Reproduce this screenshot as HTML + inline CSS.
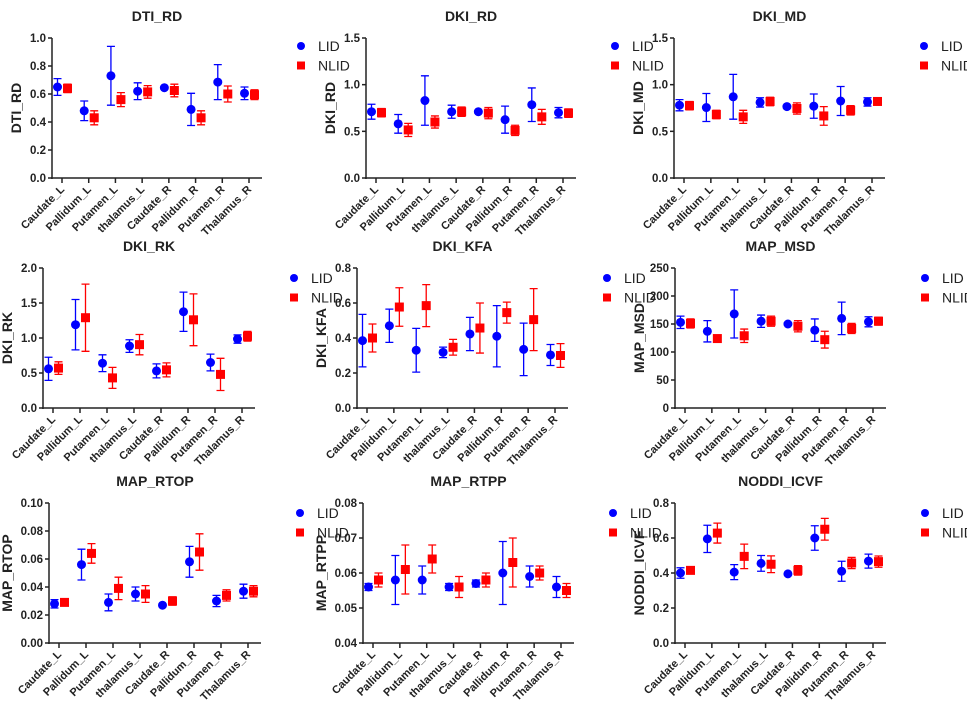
<!DOCTYPE html>
<html><head><meta charset="utf-8"><style>
html,body{margin:0;padding:0;background:#fff;}
svg{display:block;font-family:"Liberation Sans",Arial,sans-serif;}
</style></head><body>
<svg id="chart" width="967" height="711" viewBox="0 0 967 711" xmlns="http://www.w3.org/2000/svg"></svg>
<script>
const categories = ["Caudate_L","Pallidum_L","Putamen_L","thalamus_L","Caudate_R","Pallidum_R","Putamen_R","Thalamus_R"];
const seriesNames = ["LID","NLID"];

const dtiRdLidMean = [0.65,0.48,0.73,0.62,0.645,0.49,0.685,0.605];
const dtiRdLidErr  = [0.06,0.07,0.21,0.06,0.005,0.115,0.125,0.045];
const dtiRdNlidMean = [0.64,0.43,0.56,0.615,0.625,0.43,0.60,0.595];
const dtiRdNlidErr  = [0.03,0.05,0.05,0.045,0.045,0.05,0.057,0.035];
const dtiRdTicks = ["0.0","0.2","0.4","0.6","0.8","1.0"];

const dkiRdLidMean = [0.71,0.58,0.83,0.71,0.71,0.625,0.785,0.70];
const dkiRdLidErr  = [0.08,0.10,0.265,0.07,0.01,0.145,0.18,0.055];
const dkiRdNlidMean = [0.70,0.515,0.60,0.71,0.695,0.51,0.655,0.695];
const dkiRdNlidErr  = [0.045,0.07,0.065,0.05,0.06,0.055,0.08,0.045];
const dkiRdTicks = ["0.0","0.5","1.0","1.5"];

const dkiMdLidMean = [0.78,0.755,0.87,0.81,0.765,0.77,0.825,0.815];
const dkiMdLidErr  = [0.06,0.15,0.24,0.05,0.01,0.13,0.155,0.045];
const dkiMdNlidMean = [0.775,0.68,0.655,0.82,0.745,0.665,0.725,0.82];
const dkiMdNlidErr  = [0.045,0.045,0.07,0.045,0.06,0.10,0.05,0.035];
const dkiMdTicks = ["0.0","0.5","1.0","1.5"];

const dkiRkLidMean = [0.56,1.19,0.64,0.885,0.53,1.375,0.65,0.985];
const dkiRkLidErr  = [0.165,0.36,0.12,0.09,0.10,0.28,0.12,0.06];
const dkiRkNlidMean = [0.57,1.29,0.43,0.905,0.545,1.26,0.48,1.025];
const dkiRkNlidErr  = [0.09,0.48,0.15,0.145,0.10,0.37,0.23,0.07];
const dkiRkTicks = ["0.0","0.5","1.0","1.5","2.0"];

const dkiKfaLidMean = [0.385,0.47,0.33,0.318,0.423,0.41,0.335,0.303];
const dkiKfaLidErr  = [0.15,0.095,0.125,0.03,0.095,0.175,0.15,0.06];
const dkiKfaNlidMean = [0.40,0.577,0.585,0.347,0.457,0.545,0.505,0.30];
const dkiKfaNlidErr  = [0.08,0.11,0.12,0.045,0.143,0.06,0.177,0.068];
const dkiKfaTicks = ["0.0","0.2","0.4","0.6","0.8"];

const mapMsdLidMean = [153,137,168,155,150,139,160,154];
const mapMsdLidErr  = [11,19,43,11,2,20,29,9];
const mapMsdNlidMean = [151,124,129,155,146,122,142,155];
const mapMsdNlidErr  = [8,3,12,9,10,15,9,7];
const mapMsdTicks = ["0","50","100","150","200","250"];

const mapRtopLidMean = [0.028,0.056,0.029,0.035,0.027,0.058,0.030,0.037];
const mapRtopLidErr  = [0.003,0.011,0.006,0.005,0.0005,0.011,0.004,0.005];
const mapRtopNlidMean = [0.029,0.064,0.039,0.035,0.030,0.065,0.034,0.037];
const mapRtopNlidErr  = [0.002,0.007,0.008,0.006,0.003,0.013,0.004,0.004];
const mapRtopTicks = ["0.00","0.02","0.04","0.06","0.08","0.10"];

const mapRtppLidMean = [0.056,0.058,0.058,0.056,0.057,0.060,0.059,0.056];
const mapRtppLidErr  = [0.001,0.007,0.004,0.001,0.001,0.009,0.003,0.003];
const mapRtppNlidMean = [0.058,0.061,0.064,0.056,0.058,0.063,0.060,0.055];
const mapRtppNlidErr  = [0.002,0.007,0.004,0.003,0.002,0.007,0.002,0.002];
const mapRtppTicks = ["0.04","0.05","0.06","0.07","0.08"];

const icvfLidMean = [0.40,0.595,0.405,0.455,0.395,0.60,0.41,0.468];
const icvfLidErr  = [0.03,0.078,0.043,0.045,0.005,0.07,0.057,0.04];
const icvfNlidMean = [0.415,0.628,0.495,0.45,0.415,0.65,0.457,0.465];
const icvfNlidErr  = [0.015,0.057,0.07,0.048,0.027,0.062,0.032,0.032];
const icvfTicks = ["0.0","0.2","0.4","0.6","0.8"];

const panels = [
 {id:"dti-rd",title:"DTI_RD",x0:52,x1:262,yt:38,yb:178,ty:16,ly:46,ticks:dtiRdTicks,lm:dtiRdLidMean,le:dtiRdLidErr,nm:dtiRdNlidMean,ne:dtiRdNlidErr},
 {id:"dki-rd",title:"DKI_RD",x0:366,x1:576,yt:38,yb:178,ty:16,ly:46,ticks:dkiRdTicks,lm:dkiRdLidMean,le:dkiRdLidErr,nm:dkiRdNlidMean,ne:dkiRdNlidErr},
 {id:"dki-md",title:"DKI_MD",x0:674,x1:885,yt:38,yb:178,ty:16,ly:46,ticks:dkiMdTicks,lm:dkiMdLidMean,le:dkiMdLidErr,nm:dkiMdNlidMean,ne:dkiMdNlidErr},
 {id:"dki-rk",title:"DKI_RK",x0:43,x1:255,yt:268,yb:408,ty:246,ly:278,ticks:dkiRkTicks,lm:dkiRkLidMean,le:dkiRkLidErr,nm:dkiRkNlidMean,ne:dkiRkNlidErr},
 {id:"dki-kfa",title:"DKI_KFA",x0:357,x1:568,yt:268,yb:408,ty:246,ly:278,ticks:dkiKfaTicks,lm:dkiKfaLidMean,le:dkiKfaLidErr,nm:dkiKfaNlidMean,ne:dkiKfaNlidErr},
 {id:"map-msd",title:"MAP_MSD",x0:675,x1:886,yt:268,yb:408,ty:246,ly:278,ticks:mapMsdTicks,lm:mapMsdLidMean,le:mapMsdLidErr,nm:mapMsdNlidMean,ne:mapMsdNlidErr},
 {id:"map-rtop",title:"MAP_RTOP",x0:49,x1:261,yt:503,yb:643,ty:481,ly:513,ticks:mapRtopTicks,lm:mapRtopLidMean,le:mapRtopLidErr,nm:mapRtopNlidMean,ne:mapRtopNlidErr},
 {id:"map-rtpp",title:"MAP_RTPP",x0:363,x1:574,yt:503,yb:643,ty:481,ly:513,ticks:mapRtppTicks,lm:mapRtppLidMean,le:mapRtppLidErr,nm:mapRtppNlidMean,ne:mapRtppNlidErr},
 {id:"noddi-icvf",title:"NODDI_ICVF",x0:675,x1:886,yt:503,yb:643,ty:481,ly:513,ticks:icvfTicks,lm:icvfLidMean,le:icvfLidErr,nm:icvfNlidMean,ne:icvfNlidErr}
];

const NS="http://www.w3.org/2000/svg";
const svg=document.getElementById("chart");
function mk(tag,attrs,parent){const e=document.createElementNS(NS,tag);for(const k in attrs)e.setAttribute(k,attrs[k]);(parent||svg).appendChild(e);return e;}
const AX="#222";

panels.forEach(p=>{
  const g=mk("g",{});
  
  
  const ymin=parseFloat(p.ticks[0]), ymax=parseFloat(p.ticks[p.ticks.length-1]);
  const yS=v=>p.yb-(v-ymin)/(ymax-ymin)*(p.yb-p.yt);
  const step=(p.x1-p.x0-23)/7;
  const xS=i=>p.x0+10+i*step;
  const t=mk("text",{x:(p.x0+p.x1)/2,y:p.ty+5,"text-anchor":"middle","font-size":"14","font-weight":"bold",fill:"#222"},g);
  t.textContent=p.title;
  
  
  const ya=mk("line",{x1:p.x0,y1:p.yt,x2:p.x0,y2:p.yb+1,stroke:AX,"stroke-width":1.5},g);
  
  
  const xa=mk("line",{x1:p.x0-1,y1:p.yb,x2:p.x1,y2:p.yb,stroke:AX,"stroke-width":1.5},g);
  
  
  let maxW=0;
  p.ticks.forEach(tk=>{
    const y=yS(parseFloat(tk));
    mk("line",{x1:p.x0-4,y1:y,x2:p.x0,y2:y,stroke:AX,"stroke-width":1.5},g);
    const tl=mk("text",{x:p.x0-6,y:y+4,"text-anchor":"end","font-size":"11.5","font-weight":"bold",fill:"#222"},g);
    tl.textContent=tk;
    
    
    maxW=Math.max(maxW,tk.length);
  });
  const yx=p.x0-(maxW<=3?31:(maxW==4?37:33));
  const yc=(p.yt+p.yb)/2;
  const yt=mk("text",{x:yx,y:yc,"text-anchor":"middle","font-size":"14","font-weight":"bold",fill:"#222",transform:`rotate(-90 ${yx} ${yc})`},g);
  yt.textContent=p.title;
  
  
  categories.forEach((c,i)=>{
    const x=xS(i);
    mk("line",{x1:x,y1:p.yb,x2:x,y2:p.yb+5,stroke:AX,"stroke-width":1.5},g);
    const cl=mk("text",{x:x+3,y:p.yb+12,"text-anchor":"end","font-size":"11","font-weight":"bold",fill:"#222",transform:`rotate(-45 ${x+3} ${p.yb+12})`},g);
    cl.textContent=c;
    
    
  });
  const series=[{m:p.lm,e:p.le,col:"#0000ff",off:-4.5,shape:"circle"},{m:p.nm,e:p.ne,col:"#ff0000",off:5.5,shape:"square"}];
  series.forEach((s,si)=>{
    s.m.forEach((v,i)=>{
      const x=xS(i)+s.off, y=yS(v), yh=yS(v+s.e[i]), yl=yS(v-s.e[i]);
      const eb=mk("path",{d:`M${x},${yh}V${yl}M${x-4},${yh}H${x+4}M${x-4},${yl}H${x+4}`,stroke:s.col,"stroke-width":1.3,fill:"none"},g);
      
      
      let mkr;
      if(s.shape=="circle") mkr=mk("circle",{cx:x,cy:y,r:4.5,fill:s.col},g);
      else mkr=mk("rect",{x:x-4.5,y:y-4.5,width:9,height:9,fill:s.col},g);
      
      
    });
  });
  const lx=p.x1+39;
  series.forEach((s,si)=>{
    const y=p.ly+si*19.5;
    const le=mk("g",{},g);
    
    
    if(s.shape=="circle") mk("circle",{cx:lx,cy:y,r:4,fill:s.col},le);
    else mk("rect",{x:lx-4,y:y-4,width:8,height:8,fill:s.col},le);
    const lt=mk("text",{x:lx+17,y:y+5,"font-size":"14",fill:"#222"},le);
    lt.textContent=seriesNames[si];
  });
});
</script>
</body></html>
